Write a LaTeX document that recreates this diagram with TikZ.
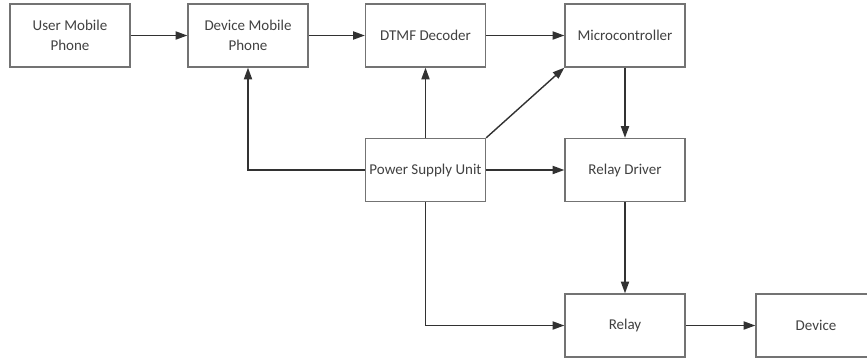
\documentclass[tikz,border=0pt]{standalone}
\usepackage{fontspec}
\setmainfont{Carlito}
\usetikzlibrary{arrows.meta}
\definecolor{BoxGray}{RGB}{115,115,115}
\definecolor{LineDark}{RGB}{50,50,50}
\definecolor{TextGray}{RGB}{65,65,65}

\begin{document}
\begin{tikzpicture}[x=0.03cm, y=-0.03cm,
	block/.style={draw=BoxGray, line width=1.2pt, fill=white, minimum width=3.6cm,
		minimum height=1.89cm, inner sep=0pt, align=center, text=TextGray,
		font=\fontsize{12.8}{17}\selectfont},
	link/.style={draw=LineDark, line width=1.2pt, -{Triangle[length=10pt,width=7pt]}}]
	\useasboundingbox (0,0) rectangle (867,358);
	% fila superior
	\node[block] (user) at (70,35.5) {User Mobile\\Phone};
	\node[block] (devphone) at (248,35.5) {Device Mobile\\Phone};
	\node[block] (dtmf) at (425.5,35.5) {DTMF Decoder};
	\node[block] (micro) at (625,35.5) {Microcontroller};
	% fila central
	\node[block] (psu) at (425.5,170) {Power Supply Unit};
	\node[block] (driver) at (625,170) {Relay Driver};
	% fila inferior
	\node[block] (relay) at (625,325.5) {Relay};
	\node[block] (device) at (816,325.5) {Device};
	% conexiones
	\draw[link] (user) -- (devphone);
	\draw[link] (devphone) -- (dtmf);
	\draw[link] (dtmf) -- (micro);
	\draw[link] (psu.north) -- (dtmf.south);
	\draw[link] (psu.north east) -- (micro.south west);
	\draw[link] (psu) -- (driver);
	\draw[link] (psu.west) -| (devphone.south);
	\draw[link] (micro) -- (driver);
	\draw[link] (driver) -- (relay);
	\draw[link] (psu.south) |- (relay.west);
	\draw[link] (relay) -- (device);
\end{tikzpicture}
\end{document}
